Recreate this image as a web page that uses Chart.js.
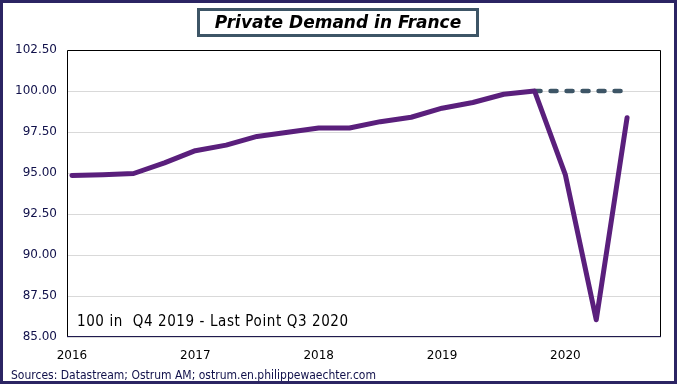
<!DOCTYPE html>
<html>
<head>
<meta charset="utf-8">
<script src="https://cdn.jsdelivr.net/npm/chart.js@4"></script>
<style>
  html,body{margin:0;padding:0;background:#fff;}
  #frame{position:relative;width:671px;height:378px;border:3px solid #2b2463;background:#fff;overflow:hidden;}
  #wrap{position:absolute;left:-3px;top:-3px;width:678px;height:384px;}
  #title{position:absolute;left:197px;top:8px;width:276px;height:23px;border:3px solid #3d5566;
    font:italic bold 17px "DejaVu Sans";line-height:23px;text-align:center;color:#000;}
  #note{position:absolute;left:77px;top:312px;font:15px "DejaVu Sans Condensed";letter-spacing:0.6px;color:#000;}
  #src{position:absolute;left:11px;top:368px;font:12px "DejaVu Sans Condensed";color:#10104a;}
</style>
</head>
<body>
<div id="frame">
  <div id="wrap">
    <canvas id="chart-demand" width="678" height="384"></canvas>
    <div id="title">Private Demand in France</div>
    <div id="note">100 in&nbsp; Q4 2019 - Last Point Q3 2020</div>
    <div id="src">Sources: Datastream; Ostrum AM; ostrum.en.philippewaechter.com</div>
  </div>
</div>
<script>
(function(){
  // trimestres, T1 2016 -> T3 2020
  const quarters = ['2016Q1','2016Q2','2016Q3','2016Q4','2017Q1','2017Q2','2017Q3','2017Q4',
                    '2018Q1','2018Q2','2018Q3','2018Q4','2019Q1','2019Q2','2019Q3','2019Q4',
                    '2020Q1','2020Q2','2020Q3'];
  const demand = [94.85, 94.90, 94.97, 95.62, 96.36, 96.70, 97.23, 97.48,
                  97.74, 97.74, 98.13, 98.40, 98.95, 99.30, 99.80, 100.00,
                  94.88, 86.05, 98.37];
  const preCovid = [null,null,null,null,null,null,null,null,
                    null,null,null,null,null,null,null,100,
                    100,100,100];
  const yearLabels = ['2016','2017','2018','2019','2020'];
  const yTicks = [85, 87.5, 90, 92.5, 95, 97.5, 100, 102.5];

  const pts = arr => arr.map((v,i)=> ({x:i, y:v}));

  // cadre noir haut/droite de la zone du graphe
  const frameBox = {
    id:'frameBox',
    beforeDatasetsDraw(chart){
      const a = chart.chartArea, c = chart.ctx;
      c.save();
      c.strokeStyle = '#000'; c.lineWidth = 1;
      c.beginPath();
      c.moveTo(a.left+0.5, a.bottom); c.lineTo(a.left+0.5, a.top+0.5);
      c.lineTo(a.right-0.5, a.top+0.5); c.lineTo(a.right-0.5, a.bottom);
      c.stroke();
      c.strokeStyle = '#1f1a4f';
      c.beginPath(); c.moveTo(a.left, a.bottom-0.5); c.lineTo(a.right, a.bottom-0.5); c.stroke();
      c.restore();
    }
  };

  new Chart(document.getElementById('chart-demand'), {
    type:'line',
    data:{ datasets:[
      { label:'Private demand', data:pts(demand), borderColor:'#5a1f7c', borderWidth:5,
        borderCapStyle:'round', borderJoinStyle:'round', pointRadius:0, tension:0, order:0 },
      { label:'Q4 2019 level', data:pts(preCovid), borderColor:'#3d5566', borderWidth:4.5,
        borderDash:[6,10], borderCapStyle:'round', pointRadius:0, tension:0, order:1 }
    ]},
    options:{
      responsive:false, animation:false, events:[],
      layout:{ padding:{ top:50, right:17, left:0, bottom:0 } },
      plugins:{ legend:{display:false}, tooltip:{enabled:false} },
      scales:{
        x:{ type:'linear', min:-0.16, max:19.1,
            grid:{ display:false, drawTicks:false },
            border:{ display:false },
            afterBuildTicks: s => { s.ticks = yearLabels.map((_,i)=>({value:i*4})); },
            afterFit: s => { s.height = 47; },
            ticks:{ padding:12, color:'#000', font:{family:'DejaVu Sans', size:12},
                    maxRotation:0, autoSkip:false, callback:v => yearLabels[v/4] } },
        y:{ min:85, max:102.5,
            grid:{ color:'#d9d9d9', lineWidth:1, drawTicks:false },
            border:{ display:false },
            afterBuildTicks: s => { s.ticks = yTicks.map(v=>({value:v})); },
            afterFit: s => { s.width = 67; },
            ticks:{ padding:10, color:'#10104a', font:{family:'DejaVu Sans', size:12},
                    callback:v => v.toFixed(2) } }
      }
    },
    plugins:[frameBox]
  });
})();
</script>
</body>
</html>
